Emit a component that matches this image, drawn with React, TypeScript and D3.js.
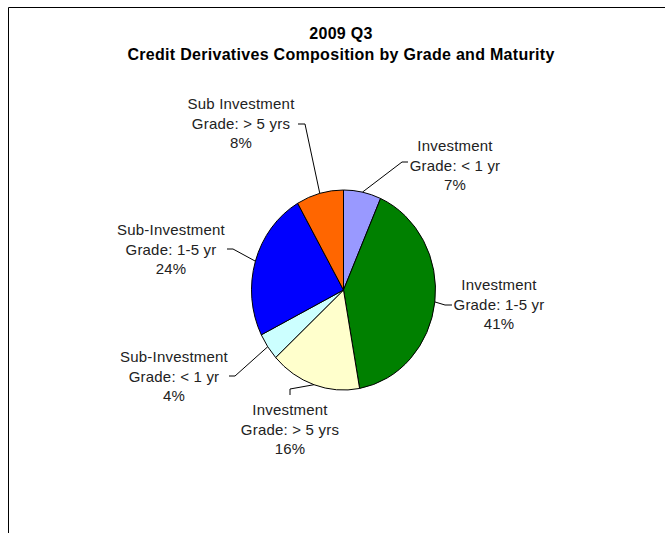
import { useEffect, useRef } from "react";
import * as d3 from "d3";

// ---------------- data ----------------
const categories = [
  "Investment Grade: < 1 yr",
  "Investment Grade: 1-5 yr",
  "Investment Grade: > 5 yrs",
  "Sub-Investment Grade: < 1 yr",
  "Sub-Investment Grade: 1-5 yr",
  "Sub Investment Grade: > 5 yrs",
];
const shares = [6.6, 40.6, 16.0, 4.4, 24.1, 8.3];
const colors = ["#9999FF", "#008000", "#FFFFCC", "#CCFFFF", "#0000FF", "#FF6600"];
const titleLines = ["2009 Q3", "Credit Derivatives Composition by Grade and Maturity"];

// label layout: text center x, first line center y, leader elbow + end
const labelPos = [
  { x: 455, y: 146, elbow: [402, 162], end: [408, 162] },
  { x: 499, y: 285, elbow: [445, 305], end: [452, 305] },
  { x: 290, y: 410, elbow: [290, 389], end: [290, 395] },
  { x: 174, y: 357, elbow: [235, 376], end: [229, 376] },
  { x: 171, y: 230, elbow: [233, 249], end: [227, 249] },
  { x: 241, y: 104, elbow: [305, 124], end: [298, 124] },
];

const W = 665;
const H = 533;

const App = () => {
  const svgRef = useRef<SVGSVGElement>(null);

  useEffect(() => {
    const svg = d3.select(svgRef.current);
    svg.selectAll("*").remove();

    // frame (only top and left edges fall inside the picture)
    svg
      .append("path")
      .attr("d", `M8.5,${H + 10} V7.5 H${W + 10}`)
      .attr("fill", "none")
      .attr("stroke", "#000")
      .attr("stroke-width", 1);

    // title
    svg
      .append("g")
      .selectAll("text")
      .data(titleLines)
      .enter()
      .append("text")
      .attr("x", 341)
      .attr("y", (d, i) => 39 + i * 21)
      .attr("text-anchor", "middle")
      .attr("font-family", "'Liberation Sans', Arial, sans-serif")
      .attr("font-weight", "bold")
      .attr("font-size", 16)
      .attr("letter-spacing", 0.3)
      .attr("fill", "#000")
      .text((d) => d);

    ///////////////////// pie /////////////////////
    const cx = 343.5;
    const cy = 290;
    const ry = 100;
    const rx = 92;

    const total = d3.sum(shares);
    const pie = d3
      .pie<number>()
      .sort(null)
      .value((d) => d)
      .startAngle(0)
      .endAngle(2 * Math.PI);
    const arcs = pie(shares);
    const arc = d3.arc<d3.PieArcDatum<number>>().innerRadius(0).outerRadius(ry);

    svg
      .append("g")
      .attr("transform", `translate(${cx},${cy}) scale(${rx / ry},1)`)
      .selectAll("path")
      .data(arcs)
      .enter()
      .append("path")
      .attr("d", arc)
      .attr("fill", (d, i) => colors[i])
      .attr("stroke", "#000")
      .attr("stroke-width", 1)
      .attr("vector-effect", "non-scaling-stroke");

    // leader lines
    const fmt = d3.format(".0%");
    const line = d3.line();
    svg
      .append("g")
      .selectAll("path")
      .data(arcs)
      .enter()
      .append("path")
      .attr("d", (d, i) => {
        const a = (d.startAngle + d.endAngle) / 2;
        const p: [number, number] = [cx + rx * Math.sin(a), cy - ry * Math.cos(a)];
        const lp = labelPos[i];
        return line([p, lp.elbow as [number, number], lp.end as [number, number]]);
      })
      .attr("fill", "none")
      .attr("stroke", "#000")
      .attr("stroke-width", 1);

    // labels
    const labels = svg
      .append("g")
      .selectAll("text")
      .data(arcs)
      .enter()
      .append("text")
      .attr("text-anchor", "middle")
      .attr("font-family", "'Liberation Sans', Arial, sans-serif")
      .attr("font-size", 15)
      .attr("letter-spacing", 0.2)
      .attr("fill", "#222");

    labels.each(function (d, i) {
      const name = categories[i];
      const k = name.indexOf(" Grade");
      const parts = [name.slice(0, k), name.slice(k + 1), fmt(d.data / total)];
      const lp = labelPos[i];
      d3.select(this)
        .selectAll("tspan")
        .data(parts)
        .enter()
        .append("tspan")
        .attr("x", lp.x)
        .attr("y", (t, j) => lp.y + 5 + j * 19.5)
        .text((t) => t);
    });
  }, []);

  return (
    <svg
      ref={svgRef}
      width={W}
      height={H}
      style={{ position: "absolute", left: 0, top: 0, background: "#fff" }}
    ></svg>
  );
};

export default App;
